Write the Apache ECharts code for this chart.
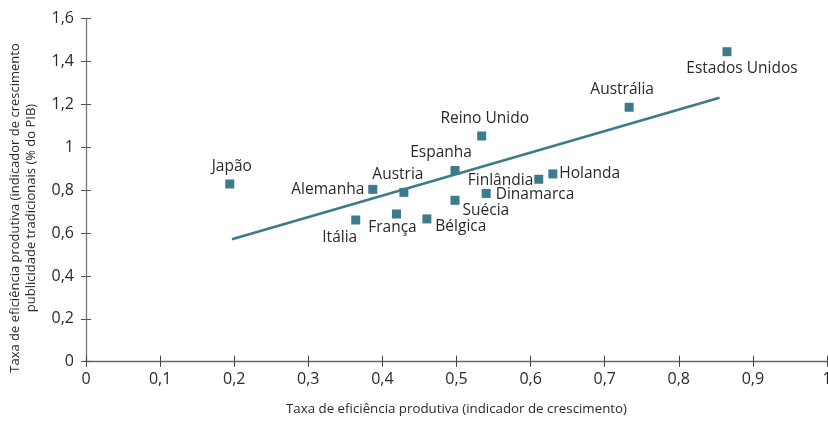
<!DOCTYPE html>
<html><head><meta charset="utf-8">
<script src="https://cdn.jsdelivr.net/npm/echarts@6/dist/echarts.min.js"></script>
<style>html,body{margin:0;padding:0;background:#fff}#c{width:828px;height:421px}</style>
</head><body><div id="c"></div>
<script>
const countries = ['Japão','Alemanha','Austria','Espanha','Itália','França','Bélgica','Suécia','Reino Unido','Finlândia','Holanda','Dinamarca','Austrália','Estados Unidos'];
const xValues = [0.194,0.387,0.429,0.498,0.364,0.419,0.460,0.498,0.534,0.611,0.630,0.540,0.733,0.865];
const yValues = [0.829,0.804,0.790,0.892,0.661,0.689,0.666,0.753,1.053,0.851,0.876,0.785,1.187,1.446];
const trendX = [0.197,0.855];
const trendY = [0.571,1.231];
const xTicks = [0,0.1,0.2,0.3,0.4,0.5,0.6,0.7,0.8,0.9,1];
const yTicks = [0,0.2,0.4,0.6,0.8,1,1.2,1.4,1.6];

const labelLayout = {
  'Japão':{position:'top',distance:5,offset:[2,0]},
  'Alemanha':{position:'left',distance:4,offset:[0,0]},
  'Austria':{position:'top',distance:5,offset:[-6,0]},
  'Espanha':{position:'top',distance:5,offset:[-14,0]},
  'Itália':{position:'bottom',distance:5,offset:[-16,0]},
  'França':{position:'bottom',distance:1,offset:[-4,0]},
  'Bélgica':{position:'right',distance:4,offset:[0,8]},
  'Suécia':{position:'right',distance:3,offset:[0,10]},
  'Reino Unido':{position:'top',distance:5,offset:[3,0]},
  'Finlândia':{position:'left',distance:1,offset:[0,1]},
  'Holanda':{position:'right',distance:2,offset:[0,0]},
  'Dinamarca':{position:'right',distance:5,offset:[0,1]},
  'Austrália':{position:'top',distance:5,offset:[-7,0]},
  'Estados Unidos':{position:'bottom',distance:4,offset:[15,0]}
};

const FONT = 'Open Sans';
const TXT = '#2a2a2a';
const MARK = '#3b7b8c';
const fmt = v => String(Math.round(v*10)/10).replace('.',',');

const chart = echarts.init(document.getElementById('c'));
const pts = countries.map((n,i)=>({
  name:n, value:[xValues[i],yValues[i]],
  label:Object.assign({show:true,formatter:'{b}'},labelLayout[n])
}));
const base = {min:0,type:'value',splitLine:{show:false}};
chart.setOption({
  animation:false,
  grid:{left:86,right:1,top:18.7,bottom:59.3,containLabel:false,outerBoundsMode:'none'},
  xAxis:[
    Object.assign({},base,{max:1,interval:0.1,
      axisLine:{show:true,lineStyle:{color:'#666',width:1.3}},
      axisTick:{show:true,length:5,lineStyle:{color:'#444'}},
      axisLabel:{formatter:fmt,margin:10,fontFamily:FONT,fontSize:16,color:TXT,showMaxLabel:true,hideOverlap:false},
      name:'Taxa de eficiência produtiva (indicador de crescimento)',
      nameLocation:'middle',nameGap:41,
      nameTextStyle:{fontFamily:FONT,fontSize:13.3,color:TXT}
    }),
    Object.assign({},base,{max:1,interval:0.1,position:'bottom',
      axisLine:{show:false},axisLabel:{show:false},
      axisTick:{show:true,inside:true,length:6,lineStyle:{color:'#444'}}})
  ],
  yAxis:[
    Object.assign({},base,{max:1.6,interval:0.2,
      axisLine:{show:true,lineStyle:{color:'#777',width:1.3}},
      axisTick:{show:true,length:5,lineStyle:{color:'#555'}},
      axisLabel:{formatter:fmt,margin:12,fontFamily:FONT,fontSize:16,color:TXT}
    }),
    Object.assign({},base,{max:1.6,interval:0.2,position:'left',
      axisLine:{show:false},axisLabel:{show:false},
      axisTick:{show:true,inside:true,length:5,lineStyle:{color:'#555'}}})
  ],
  graphic:[{
    type:'text',rotation:Math.PI/2,
    x:7,y:208,
    style:{text:'Taxa de eficiência produtiva (indicador de crescimento\npublicidade tradicionais (% do PIB)',
      fontFamily:FONT,fontSize:13,fill:TXT,textAlign:'center',lineHeight:16}
  }],
  series:[
    {type:'line',data:trendX.map((x,i)=>[x,trendY[i]]),symbol:'none',
     lineStyle:{color:MARK,width:2.6},z:2},
    {type:'scatter',data:pts,symbol:'rect',symbolSize:9,
     itemStyle:{color:MARK,opacity:1},
     label:{fontFamily:FONT,fontSize:15.5,color:TXT},z:3}
  ]
});
</script></body></html>
